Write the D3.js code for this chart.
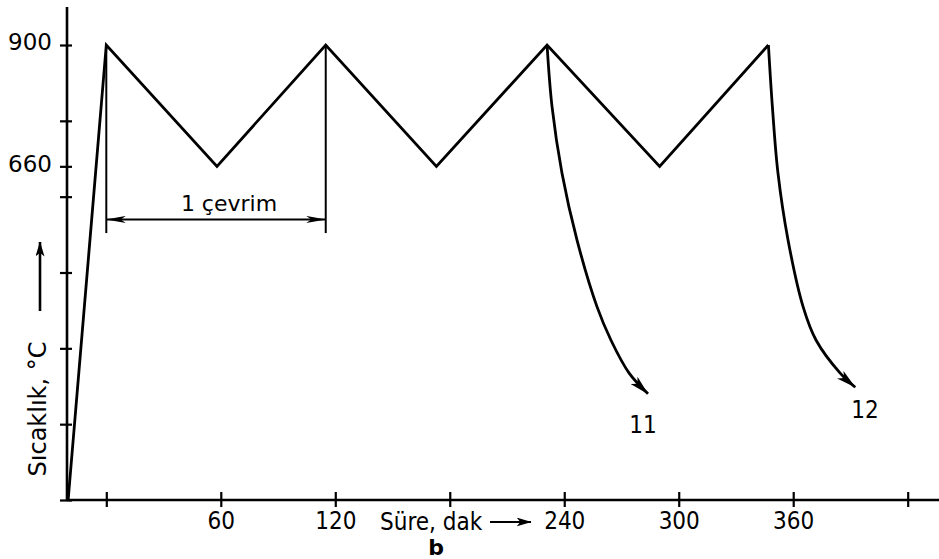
<!DOCTYPE html>
<html><head><meta charset="utf-8">
<script src="https://cdn.jsdelivr.net/npm/d3@7"></script>
<style>
html,body{margin:0;padding:0;background:#fff;}
svg{display:block;}
text{font-family:"DejaVu Sans",sans-serif;fill:#000;}
</style></head><body>
<script>
// ---- data (minutes, °C) ----
const cycleTime = [-20, 0, 58, 115, 173, 231, 290, 347];
const cycleTemp = [0, 900, 660, 900, 660, 900, 660, 900];
const cool11Time = [231, 233.6, 238.8, 246.7, 257.2, 264.5, 274.0, 283.9];
const cool11Temp = [900, 778, 647, 514, 382, 316, 251, 210];
const cool12Time = [347, 349.1, 352.0, 357.3, 365.2, 372.0, 384.6, 392.5];
const cool12Temp = [900, 777, 647, 514, 382, 316, 251, 223];
const xTicks = [0, 60, 120, 180, 240, 300, 360, 420];
const xTickLabels = ["", "60", "120", "", "240", "300", "360", ""];
const yTicks = [0, 150, 300, 450, 600, 660, 750, 900];
const yTickLabels = ["", "", "", "", "", "660", "", "900"];
const cycleSpan = [0, 115];       // "1 çevrim" dimension
const cycleMarkTemp = [528, 555]; // bottom of guide lines, level of dimension arrow
const curveLabels = ["11", "12"];

const W = 939, H = 559;
const svg = d3.select("body").append("svg").attr("width", W).attr("height", H);
const defs = svg.append("defs");
function marker(id, orient, len, wid) {
  defs.append("marker").attr("id", id).attr("viewBox", `0 0 ${len} ${wid}`)
    .attr("refX", len - 0.5).attr("refY", wid / 2).attr("markerWidth", len).attr("markerHeight", wid)
    .attr("markerUnits", "userSpaceOnUse").attr("orient", orient)
    .append("path").attr("d", `M0,0 L${len},${wid / 2} L0,${wid} L${len * 0.25},${wid / 2} Z`).attr("fill", "#000");
}
marker("ahBig", "auto", 20, 10);
marker("ahDim", "auto", 20, 7);
marker("ahDim2", "auto-start-reverse", 20, 7);
marker("ahAx", "auto", 15, 9);

const x = d3.scaleLinear().domain([0, 420]).range([106.3, 907.7]);
const y = d3.scaleLinear().domain([0, 900]).range([500, 45]);
const x0 = x.invert(67), xEnd = x.invert(939), yTop = y.invert(7);

// axes
const xAxis = d3.axisBottom(x).tickValues(xTicks).tickSizeOuter(0).tickSizeInner(0)
  .tickFormat((d, i) => xTickLabels[i]);
const gx = svg.append("g").attr("transform", `translate(0,${y(0)})`).call(xAxis);
gx.select(".domain").remove();
gx.append("line").attr("x1", x(x0)).attr("x2", x(xEnd)).attr("stroke", "#000").attr("stroke-width", 2.4);
gx.selectAll(".tick line").attr("y1", -8).attr("y2", 7).attr("stroke", "#000").attr("stroke-width", 2.2);
gx.selectAll(".tick text").attr("y", 12).attr("dy", "0.71em")
  .style("font-family", '"DejaVu Sans Condensed","DejaVu Sans",sans-serif').style("font-size", "24px");

const yAxis = d3.axisLeft(y).tickValues(yTicks).tickSizeOuter(0).tickSizeInner(0)
  .tickFormat((d, i) => yTickLabels[i]);
const gy = svg.append("g").attr("transform", `translate(${x(x0)},0)`).call(yAxis);
gy.select(".domain").remove();
gy.append("line").attr("y1", y(0)).attr("y2", y(yTop)).attr("stroke", "#000").attr("stroke-width", 2.6);
gy.selectAll(".tick line").attr("x1", -7).attr("x2", 5).attr("stroke", "#000").attr("stroke-width", 2.2);
gy.selectAll(".tick text").attr("x", -15).attr("y", -3.5).attr("dy", "0.36em")
  .style("font-size", "23px").attr("text-anchor", "end");

// main cycle line
const line = d3.line().x(d => x(d[0])).y(d => y(d[1]));
svg.append("path").datum(cycleTime.map((t, i) => [t, cycleTemp[i]]))
  .attr("d", line).attr("fill", "none").attr("stroke", "#000").attr("stroke-width", 2.8)
  .attr("stroke-linejoin", "miter");

// cooling curves
const curveLine = d3.line().x(d => x(d[0])).y(d => y(d[1])).curve(d3.curveCatmullRom.alpha(0.5));
const labelPos = [[643, 433], [865, 418]];
[[cool11Time, cool11Temp], [cool12Time, cool12Temp]].forEach(([ts, vs], k) => {
  svg.append("path").datum(ts.map((t, i) => [t, vs[i]]))
    .attr("d", curveLine).attr("fill", "none").attr("stroke", "#000").attr("stroke-width", 2.8)
    .attr("marker-end", "url(#ahBig)");
  svg.append("text").attr("x", labelPos[k][0]).attr("y", labelPos[k][1])
    .attr("text-anchor", "middle")
    .style("font-family", '"DejaVu Sans Condensed",sans-serif')
    .style("font-size", "24px").text(curveLabels[k]);
});

// "1 çevrim" guides and dimension arrow
cycleSpan.forEach(t => {
  svg.append("line").attr("x1", x(t)).attr("x2", x(t))
    .attr("y1", y(900)).attr("y2", y(cycleMarkTemp[0]))
    .attr("stroke", "#000").attr("stroke-width", 2);
});
svg.append("line").attr("x1", x(cycleSpan[0])).attr("x2", x(cycleSpan[1]))
  .attr("y1", y(cycleMarkTemp[1])).attr("y2", y(cycleMarkTemp[1]))
  .attr("stroke", "#000").attr("stroke-width", 2)
  .attr("marker-start", "url(#ahDim2)").attr("marker-end", "url(#ahDim)");
svg.append("text").attr("x", 229).attr("y", 211)
  .attr("text-anchor", "middle").style("font-size", "22px").text("1 çevrim");

// axis titles
svg.append("text").attr("x", 380).attr("y", 530)
  .style("font-family", '"DejaVu Sans Condensed","DejaVu Sans",sans-serif')
  .style("font-size", "24px").text("Süre, dak");
svg.append("line").attr("x1", 490).attr("x2", 531).attr("y1", 522).attr("y2", 522)
  .attr("stroke", "#000").attr("stroke-width", 2).attr("marker-end", "url(#ahAx)");
svg.append("text").attr("x", 436).attr("y", 555).attr("text-anchor", "middle")
  .style("font-size", "22px").style("font-weight", "bold").text("b");

svg.append("text").attr("transform", "translate(46,409) rotate(-90)")
  .attr("text-anchor", "middle").style("font-size", "24px").text("Sıcaklık, °C");
svg.append("line").attr("x1", 40).attr("x2", 40).attr("y1", 311).attr("y2", 242)
  .attr("stroke", "#000").attr("stroke-width", 2.6).attr("marker-end", "url(#ahAx)");
</script>
</body></html>
